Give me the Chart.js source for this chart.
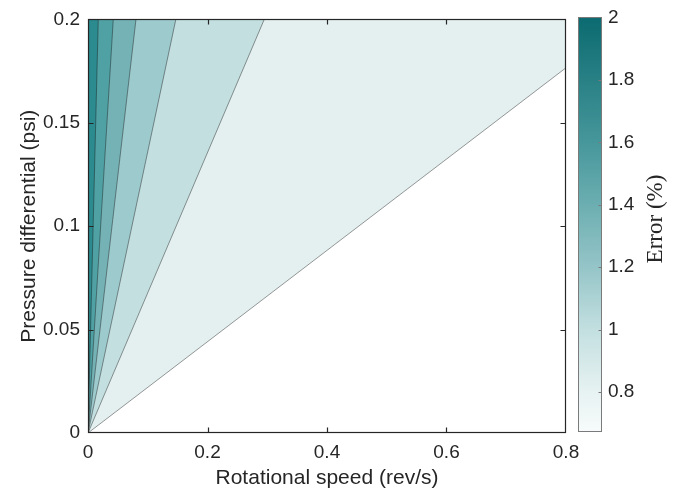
<!DOCTYPE html>
<html><head><meta charset="utf-8">
<script src="https://cdn.jsdelivr.net/npm/chart.js@4/dist/chart.umd.min.js"></script>
<style>
html,body{margin:0;padding:0;background:#fff;}
#wrap{position:relative;width:675px;height:494px;overflow:hidden;background:#fff;}
#main{position:absolute;left:0;top:0;}
#cbar{position:absolute;left:570px;top:0;}
</style></head><body>
<div id="wrap"><canvas id="main" width="675" height="494"></canvas><canvas id="cbar" width="105" height="494"></canvas></div>
<script>
// ---- data ----
const X_TICKS = [0, 0.2, 0.4, 0.6, 0.8];
const Y_TICKS = [0, 0.05, 0.1, 0.15, 0.2];
const CBAR_TICKS = [0.8, 1, 1.2, 1.4, 1.6, 1.8, 2];
const CBAR_RANGE = [0.672, 2];
// contour boundaries: straight lines from the origin to these end points
const CONTOUR_END_X = [0.8, 0.295, 0.147, 0.0803, 0.0423, 0.0172];
const CONTOUR_END_Y = [0.1766, 0.2, 0.2, 0.2, 0.2, 0.2];
// ---- styles ----
const REGION_COLORS = ['#e4f0f0', '#c4dfe0', '#9dcacd', '#74b2b5', '#4fa1a4', '#2b8b8f'];
const CBAR_STOP_VALUES = [0.672, 0.8, 1, 1.2, 1.4, 1.6, 1.8, 2];
const CBAR_STOP_COLORS = ['#f7fbfb', '#e7f2f2', '#c3dfe0', '#95c5c8', '#6caeb1', '#46979b', '#288085', '#0b6b70'];
const AX = '#262626';
const FONT = '"Liberation Sans", Arial, sans-serif';
const fmt = v => String(Math.round(v * 1000) / 1000);

const framePlugin = {
  id: 'frame',
  afterDatasetsDraw(chart) {
    const {ctx, chartArea: a, scales: {x, y}} = chart;
    ctx.save();
    ctx.strokeStyle = AX; ctx.lineWidth = 1.2;
    const L = Math.round(a.left) + 0.5, R = Math.round(a.right) - 0.5;
    const T = Math.round(a.top) + 0.5, B = Math.round(a.bottom) - 0.5;
    ctx.strokeRect(L, T, R - L, B - T);
    ctx.beginPath();
    X_TICKS.slice(1, -1).forEach(v => {
      const p = Math.round(x.getPixelForValue(v)) + 0.5;
      ctx.moveTo(p, B); ctx.lineTo(p, B - 5);
      ctx.moveTo(p, T); ctx.lineTo(p, T + 5);
    });
    Y_TICKS.slice(1, -1).forEach(v => {
      const p = Math.round(y.getPixelForValue(v)) + 0.5;
      ctx.moveTo(L, p); ctx.lineTo(L + 5, p);
      ctx.moveTo(R, p); ctx.lineTo(R - 5, p);
    });
    ctx.stroke();
    ctx.restore();
  }
};

const datasets = CONTOUR_END_X.map((ex, i) => ({
  data: [{x: 0, y: 0}, {x: ex, y: CONTOUR_END_Y[i]}],
  borderColor: 'rgba(30,30,30,0.75)',
  borderWidth: 0.6,
  backgroundColor: REGION_COLORS[i],
  fill: 'end',
  pointRadius: 0,
  tension: 0,
  order: CONTOUR_END_X.length - i
}));

new Chart(document.getElementById('main'), {
  type: 'line',
  data: {datasets},
  options: {
    responsive: false, animation: false, events: [],
    layout: {padding: {left: 0, top: 15, right: 109, bottom: 0}},
    plugins: {legend: {display: false}, tooltip: {enabled: false}},
    scales: {
      x: {
        type: 'linear', min: 0, max: 0.8,
        grid: {display: false, drawTicks: false}, border: {display: false},
        afterBuildTicks: s => { s.ticks = X_TICKS.map(v => ({value: v})); },
        afterFit: s => { s.height = 61; },
        ticks: {font: {family: FONT, size: 19}, color: AX, padding: 8, maxRotation: 0, autoSkip: false, callback: v => fmt(v)},
        title: {display: true, text: 'Rotational speed (rev/s)', font: {family: FONT, size: 21}, color: AX, padding: {top: 0, bottom: 3}}
      },
      y: {
        type: 'linear', min: 0, max: 0.2,
        grid: {display: false, drawTicks: false}, border: {display: false},
        afterBuildTicks: s => { s.ticks = Y_TICKS.map(v => ({value: v})); },
        afterFit: s => { s.width = 88; },
        ticks: {font: {family: FONT, size: 19}, color: AX, padding: 8, autoSkip: false, callback: v => fmt(v)},
        title: {display: true, text: 'Pressure differential (psi)', font: {family: FONT, size: 21}, color: AX, padding: {top: 17, bottom: 0}}
      }
    }
  },
  plugins: [framePlugin]
});

const cbarPlugin = {
  id: 'cbarFrame',
  afterDatasetsDraw(chart) {
    const {ctx, chartArea: a, scales: {y}} = chart;
    ctx.save();
    ctx.strokeStyle = '#7a7a7a'; ctx.lineWidth = 1;
    const L = Math.round(a.left) + 0.5, R = Math.round(a.right) - 0.5;
    const T = Math.round(a.top) + 0.5, B = Math.round(a.bottom) - 0.5;
    ctx.strokeRect(L, T, R - L, B - T);
    ctx.beginPath();
    CBAR_TICKS.forEach(v => {
      const p = Math.round(y.getPixelForValue(v)) + 0.5;
      ctx.moveTo(R, p); ctx.lineTo(R - 3, p);
    });
    ctx.stroke();
    ctx.translate(86, 219);
    ctx.rotate(-Math.PI / 2);
    ctx.fillStyle = AX;
    ctx.font = '23px "Liberation Serif", "Times New Roman", serif';
    ctx.textAlign = 'center'; ctx.textBaseline = 'middle';
    ctx.fillText('Error (%)', 0, 0);
    ctx.restore();
  }
};

new Chart(document.getElementById('cbar'), {
  type: 'bar',
  data: {
    labels: ['Error'],
    datasets: [{
      data: [CBAR_RANGE],
      backgroundColor: c => {
        const ch = c.chart;
        if (!ch.chartArea) return CBAR_STOP_COLORS[0];
        const y = ch.scales.y;
        const g = ch.ctx.createLinearGradient(0, y.getPixelForValue(CBAR_RANGE[0]), 0, y.getPixelForValue(CBAR_RANGE[1]));
        CBAR_STOP_VALUES.forEach((v, i) => g.addColorStop((v - CBAR_RANGE[0]) / (CBAR_RANGE[1] - CBAR_RANGE[0]), CBAR_STOP_COLORS[i]));
        return g;
      },
      barPercentage: 1, categoryPercentage: 1, borderWidth: 0
    }]
  },
  options: {
    responsive: false, animation: false, events: [],
    layout: {padding: {left: 8, top: 16, right: 0, bottom: 62}},
    plugins: {legend: {display: false}, tooltip: {enabled: false}},
    scales: {
      x: {display: false},
      y: {
        position: 'right', min: CBAR_RANGE[0], max: CBAR_RANGE[1],
        grid: {display: false, drawTicks: false}, border: {display: false},
        afterBuildTicks: s => { s.ticks = CBAR_TICKS.map(v => ({value: v})); },
        afterFit: s => { s.width = 73; },
        ticks: {font: {family: FONT, size: 19}, color: AX, padding: 6, autoSkip: false, callback: v => fmt(v)}
      }
    }
  },
  plugins: [cbarPlugin]
});
</script>
</body></html>
